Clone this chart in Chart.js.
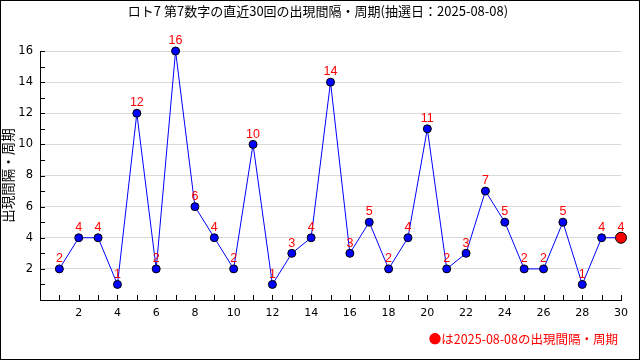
<!DOCTYPE html>
<html>
<head>
<meta charset="utf-8">
<script src="https://cdn.jsdelivr.net/npm/chart.js@4"></script>
<style>
  html, body { margin: 0; padding: 0; background: #fff; }
  #wrap { width: 640px; height: 360px; }
</style>
</head>
<body>
<div id="wrap"><canvas id="interval"></canvas></div>
<script>
(function () {
    "use strict";
    // 直近30回の出現間隔
    var draws = [1,2,3,4,5,6,7,8,9,10,11,12,13,14,15,16,17,18,19,20,21,22,23,24,25,26,27,28,29,30];
    var gaps = [2,4,4,1,12,2,16,6,4,2,10,1,3,4,14,3,5,2,4,11,2,3,7,5,2,2,5,1,4,4];
    var titleText = "ロト7 第7数字の直近30回の出現間隔・周期(抽選日：2025-08-08)";
    var yTitle = "出現間隔・周期";
    var caption = "●は2025-08-08の出現間隔・周期";

    var jp = "'Noto Sans CJK JP', sans-serif";
    var last = gaps.length - 1;

    var points = draws.map(function (d, i) { return { x: d, y: gaps[i] }; });

    // 枠線・内向き目盛・数値ラベル・タイトル・注記
    var extras = {
        id: "extras",
        afterDatasetsDraw: function (chart) {
            var c = chart.ctx, xs = chart.scales.x, ys = chart.scales.y;
            var a = chart.chartArea;
            c.save();
            c.strokeStyle = "#000";
            c.lineWidth = 1;
            c.beginPath();
            for (var i = 1; i <= 30; i++) {
                var px = Math.round(xs.getPixelForValue(i)) + 0.5;
                c.moveTo(px, a.bottom);
                c.lineTo(px, a.bottom - 5);
            }
            for (var j = 1; j <= 16; j++) {
                var py = Math.round(ys.getPixelForValue(j)) + 0.5;
                c.moveTo(a.left, py);
                c.lineTo(a.left + 5, py);
            }
            c.stroke();

            var meta = chart.getDatasetMeta(0);
            c.fillStyle = "#ff0000";
            c.font = "12.5px 'Liberation Sans', sans-serif";
            c.textAlign = "center";
            c.textBaseline = "bottom";
            meta.data.forEach(function (pt, k) {
                c.fillText(String(gaps[k]), pt.x, pt.y - 4);
            });

            c.font = "12.5px " + jp;
            c.textAlign = "right";
            c.textBaseline = "middle";
            c.fillText(caption, 618, 339);

            c.fillStyle = "#000";
            c.font = "13px " + jp;
            c.textAlign = "center";
            c.fillText(titleText, 318, 11);

            c.strokeRect(0.5, 0.5, chart.width - 1, chart.height - 1);
            c.restore();
        }
    };

    new Chart(document.getElementById("interval").getContext("2d"), {
        type: "line",
        data: {
            datasets: [{
                data: points,
                borderColor: "#0000ff",
                borderWidth: 1,
                tension: 0,
                clip: false,
                pointBackgroundColor: function (ctx) { return ctx.dataIndex === last ? "#ff0000" : "#0000ff"; },
                pointBorderColor: "#000",
                pointBorderWidth: 1,
                pointRadius: function (ctx) { return ctx.dataIndex === last ? 5.5 : 4; }
            }]
        },
        options: {
            responsive: true,
            maintainAspectRatio: false,
            animation: false,
            layout: { padding: { top: 51, right: 19, left: 0, bottom: 0 } },
            plugins: {
                legend: { display: false },
                tooltip: { enabled: false },
                title: { display: false }
            },
            scales: {
                x: {
                    type: "linear",
                    min: 0,
                    max: 30,
                    afterFit: function (s) { s.height = 60; },
                    grid: { drawOnChartArea: false, drawTicks: false },
                    border: { color: "#000" },
                    ticks: {
                        stepSize: 1,
                        autoSkip: false,
                        maxRotation: 0,
                        padding: 7,
                        color: "#000",
                        font: { family: "'DejaVu Sans'", size: 11 },
                        callback: function (v) { return (v > 0 && v % 2 === 0) ? v : ""; }
                    }
                },
                y: {
                    min: 0,
                    max: 16,
                    afterFit: function (s) { s.width = 40; },
                    grid: {
                        drawTicks: false,
                        color: function (ctx) {
                            var v = ctx.tick ? ctx.tick.value : 0;
                            return (v > 0 && v % 2 === 0) ? "#d9d9d9" : "rgba(0,0,0,0)";
                        }
                    },
                    border: { color: "#000" },
                    title: {
                        display: true,
                        text: yTitle,
                        color: "#000",
                        font: { family: jp, size: 13.5 },
                        padding: 0
                    },
                    ticks: {
                        stepSize: 1,
                        autoSkip: false,
                        padding: 7,
                        color: "#000",
                        font: { family: "'DejaVu Sans'", size: 11.5 },
                        callback: function (v) { return (v > 0 && v % 2 === 0) ? v : ""; }
                    }
                }
            }
        },
        plugins: [extras]
    });
})();
</script>
</body>
</html>
